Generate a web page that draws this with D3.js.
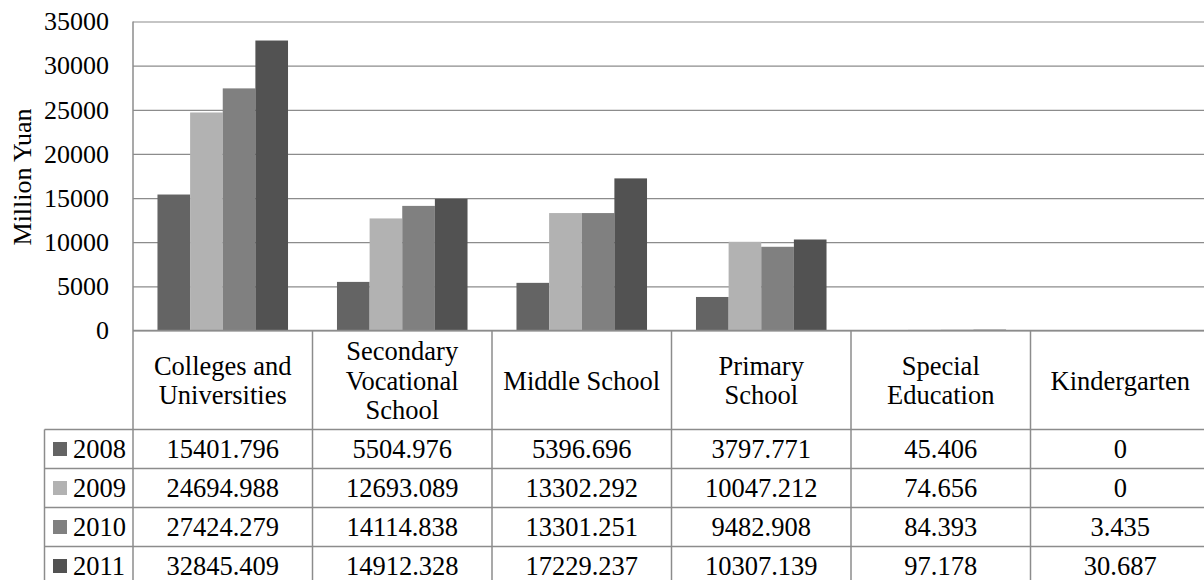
<!DOCTYPE html>
<html>
<head>
<meta charset="utf-8">
<script src="https://cdn.jsdelivr.net/npm/d3@7/dist/d3.min.js"></script>
<style>
  html, body { margin: 0; padding: 0; background: #fff; }
  svg { display: block; }
  svg text { font-family: "Liberation Serif", Tinos, "Times New Roman", Times, "DejaVu Serif", serif !important; fill: #000; }
</style>
</head>
<body>
<svg id="chart" width="1204" height="580" font-family="Liberation Serif, DejaVu Serif, serif"></svg>
<script>
// ---- data ----
const categories = [
  ["Colleges and", "Universities"],
  ["Secondary", "Vocational", "School"],
  ["Middle School"],
  ["Primary", "School"],
  ["Special", "Education"],
  ["Kindergarten"]
];
const years = ["2008", "2009", "2010", "2011"];
const values2008 = [15401.796, 5504.976, 5396.696, 3797.771, 45.406, 0];
const values2009 = [24694.988, 12693.089, 13302.292, 10047.212, 74.656, 0];
const values2010 = [27424.279, 14114.838, 13301.251, 9482.908, 84.393, 3.435];
const values2011 = [32845.409, 14912.328, 17229.237, 10307.139, 97.178, 30.687];
const valueLabels = [
  ["15401.796", "5504.976", "5396.696", "3797.771", "45.406", "0"],
  ["24694.988", "12693.089", "13302.292", "10047.212", "74.656", "0"],
  ["27424.279", "14114.838", "13301.251", "9482.908", "84.393", "3.435"],
  ["32845.409", "14912.328", "17229.237", "10307.139", "97.178", "30.687"]
];
const yTicks = [0, 5000, 10000, 15000, 20000, 25000, 30000, 35000];
const yTitle = "Million Yuan";

const series = [values2008, values2009, values2010, values2011];
const colors = ["#646464", "#b2b2b2", "#808080", "#525252"];

// ---- layout ----
const plotLeft = 133, plotRight = 1210, plotTop = 21.5, zeroY = 330.5;
const headerBottom = 429.5, rowH = 39;
const legendLeft = 44.5;
const lineColor = "#8c8c8c";
const fontSize = 26.5;
const baseOff = 9.5;

const svg = d3.select("#chart");
const catIdx = categories.map((d, i) => i);

const x0 = d3.scaleBand().domain(catIdx).range([plotLeft, plotRight]).paddingInner(0).paddingOuter(0);
const x1 = d3.scaleBand().domain(years).range([0, x0.bandwidth()]).paddingInner(0).paddingOuter(0.75);
const y = d3.scaleLinear().domain([0, 35000]).range([zeroY, plotTop]);

// gridlines
const grid = svg.append("g")
  .attr("transform", `translate(${plotLeft},0)`)
  .call(d3.axisLeft(y).tickValues(yTicks).tickSize(-(plotRight - plotLeft)).tickFormat(""));
grid.select(".domain").remove();
grid.selectAll(".tick line").attr("stroke", lineColor).attr("stroke-width", 1.2);

// bars
const gBars = svg.append("g");
years.forEach((yr, s) => {
  gBars.selectAll(null)
    .data(series[s])
    .enter().append("rect")
    .attr("x", (d, i) => x0(i) + x1(yr))
    .attr("width", x1.bandwidth())
    .attr("y", d => y(d))
    .attr("height", d => zeroY - y(d))
    .attr("fill", colors[s]);
});

// y axis labels
const yAxis = svg.append("g")
  .attr("transform", `translate(${plotLeft - 24},0)`)
  .call(d3.axisLeft(y).tickValues(yTicks).tickSize(0).tickPadding(0).tickFormat(d3.format("d")));
yAxis.attr("font-family", null).attr("font-size", null);
yAxis.select(".domain").remove();
yAxis.selectAll("text")
  .attr("font-size", 26)
  .attr("fill", "#000");

// y title
svg.append("text")
  .attr("transform", `translate(${31},${177}) rotate(-90)`)
  .attr("text-anchor", "middle")
  .attr("font-size", 26)
  .text(yTitle);

// ---- data table ----
const tbl = svg.append("g");
const tableBottom = headerBottom + rowH * years.length;

catIdx.forEach(i => {
  if (i === 0) return;
  tbl.append("line")
    .attr("x1", x0(i)).attr("x2", x0(i))
    .attr("y1", zeroY).attr("y2", tableBottom)
    .attr("stroke", lineColor).attr("stroke-width", 1.5);
});
tbl.append("line")
  .attr("x1", plotLeft).attr("x2", plotLeft)
  .attr("y1", plotTop).attr("y2", tableBottom)
  .attr("stroke", lineColor).attr("stroke-width", 1.5);
tbl.append("line")
  .attr("x1", legendLeft).attr("x2", legendLeft)
  .attr("y1", headerBottom).attr("y2", tableBottom)
  .attr("stroke", lineColor).attr("stroke-width", 1.5);
tbl.append("line")
  .attr("x1", plotLeft).attr("x2", plotRight)
  .attr("y1", zeroY).attr("y2", zeroY)
  .attr("stroke", lineColor).attr("stroke-width", 1.5);
d3.range(years.length + 1).forEach(r => {
  const yy = headerBottom + r * rowH;
  tbl.append("line")
    .attr("x1", legendLeft).attr("x2", plotRight)
    .attr("y1", yy).attr("y2", yy)
    .attr("stroke", lineColor).attr("stroke-width", 1.5);
});

const lineH = 29.5;
const headerMid = (zeroY + headerBottom) / 2;
categories.forEach((lines, i) => {
  const cx = x0(i) + x0.bandwidth() / 2;
  const t = tbl.append("text")
    .attr("text-anchor", "middle")
    .attr("font-size", fontSize);
  lines.forEach((ln, k) => {
    const cy = headerMid + (k - (lines.length - 1) / 2) * lineH;
    t.append("tspan").attr("x", cx).attr("y", cy + baseOff).text(ln);
  });
});

years.forEach((yr, r) => {
  const cy = headerBottom + r * rowH + rowH / 2;
  tbl.append("rect")
    .attr("x", 53).attr("y", cy - 7).attr("width", 14).attr("height", 14)
    .attr("fill", colors[r]);
  tbl.append("text")
    .attr("x", 73).attr("y", cy + 8.5)
    .attr("font-size", fontSize)
    .text(yr);
  valueLabels[r].forEach((v, i) => {
    tbl.append("text")
      .attr("x", x0(i) + x0.bandwidth() / 2)
      .attr("y", cy + 8.5)
      .attr("text-anchor", "middle")
      .attr("font-size", fontSize)
      .text(v);
  });
});
</script>
</body>
</html>
